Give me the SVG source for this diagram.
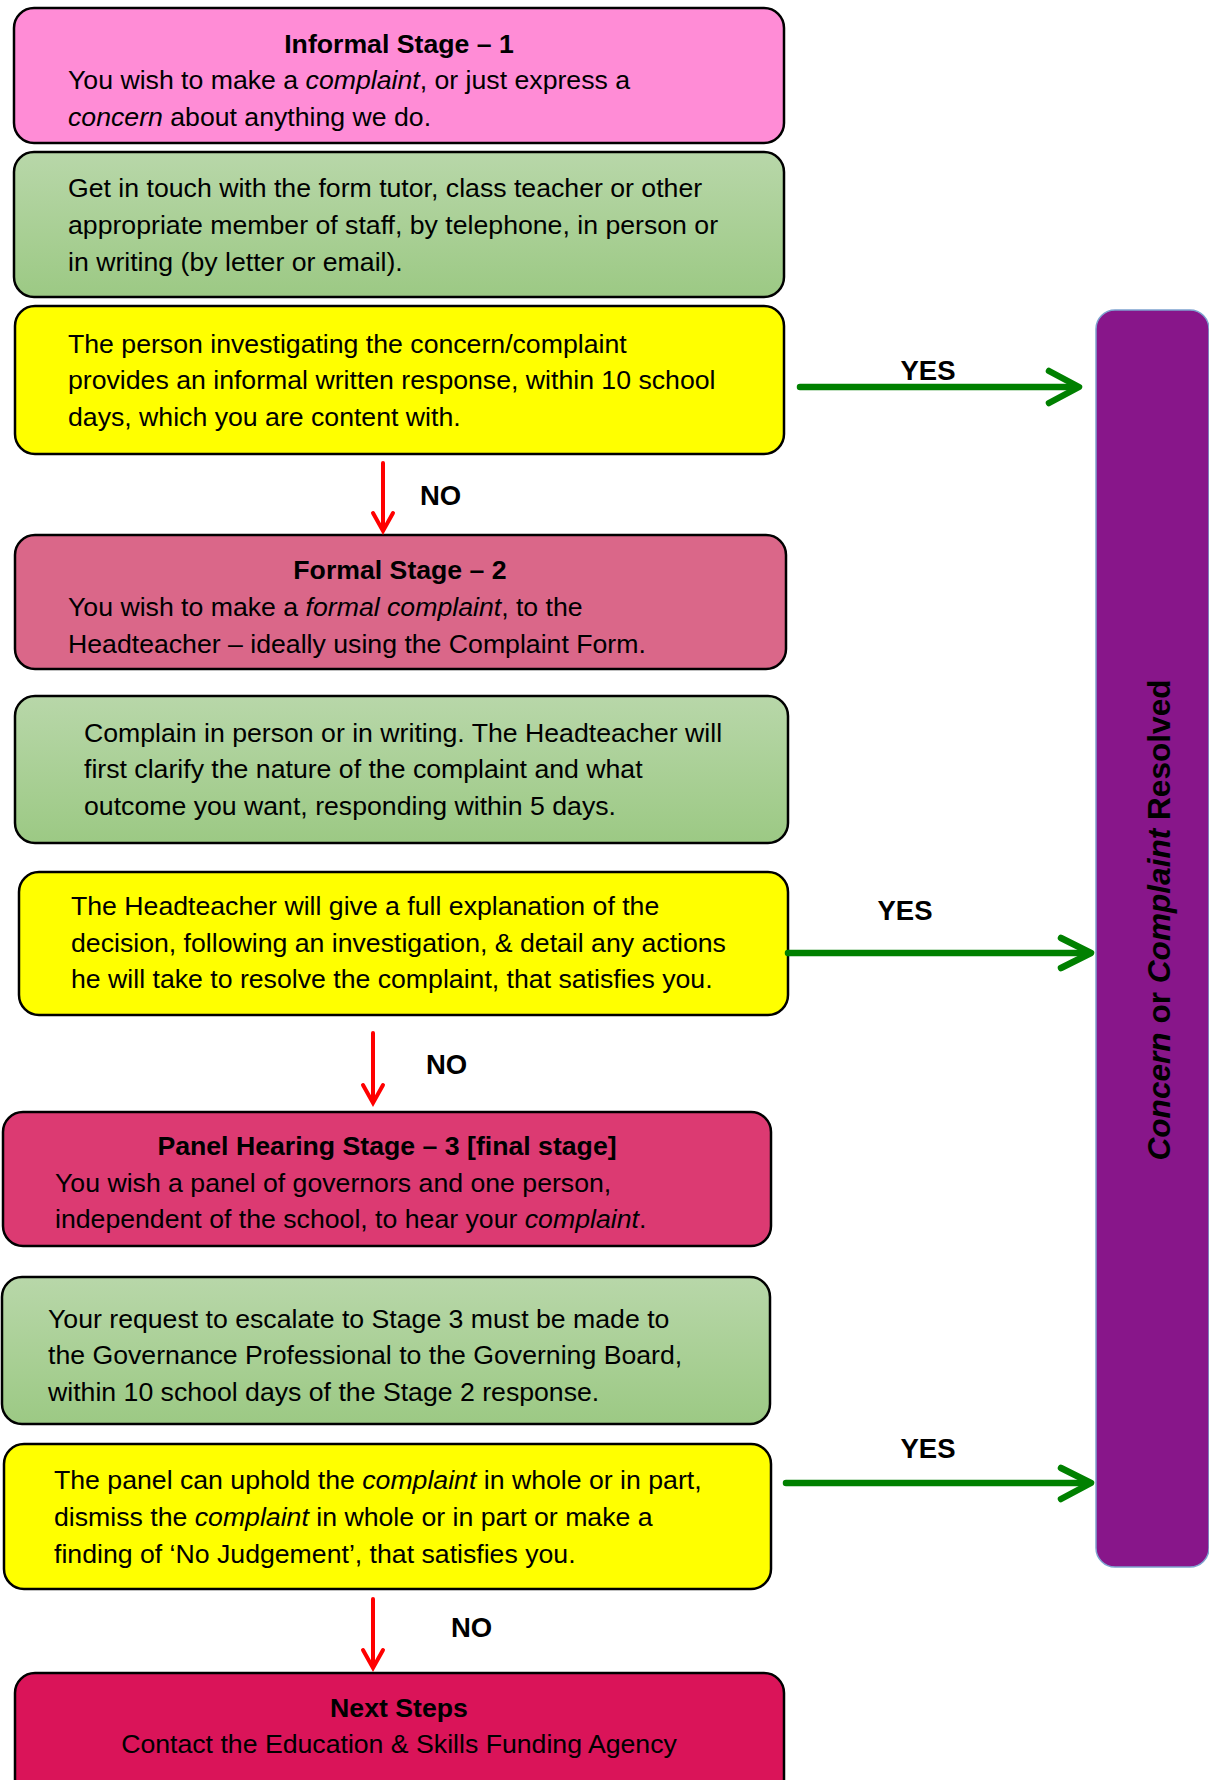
<svg xmlns="http://www.w3.org/2000/svg" width="1209" height="1780" viewBox="0 0 1209 1780">
<style>
.box{stroke:#000;stroke-width:2.5}
text{font-family:"Liberation Sans",Arial,sans-serif;font-size:26.67px;fill:#000}
.t{font-weight:bold;text-anchor:middle}
.c{text-anchor:middle}
.i{font-style:italic}
.lbl{font-weight:bold;font-size:27.5px}
.yes{fill:none;stroke:#008000;stroke-width:6.5;stroke-linecap:round;stroke-linejoin:round}
.no{fill:none;stroke:#ff0000;stroke-width:4;stroke-linecap:round;stroke-linejoin:miter}
</style>
<defs>
<linearGradient id="g" x1="0" y1="0" x2="0" y2="1">
<stop offset="0" stop-color="#b8d7a9"/>
<stop offset="1" stop-color="#9cc984"/>
</linearGradient>
</defs>
<g id="informal">
<rect class="box" x="14" y="8" width="770" height="135" rx="20" fill="#ff8cd6"/>
<text class="t" x="399" y="53">Informal Stage – 1</text>
<text x="68" y="89">You wish to make a <tspan class="i">complaint</tspan>, or just express a</text>
<text x="68" y="126"><tspan class="i">concern</tspan> about anything we do.</text>
</g>
<g id="contact">
<rect class="box" x="14" y="152" width="770" height="145" rx="20" fill="url(#g)"/>
<text x="68" y="197">Get in touch with the form tutor, class teacher or other</text>
<text x="68" y="234">appropriate member of staff, by telephone, in person or</text>
<text x="68" y="271">in writing (by letter or email).</text>
</g>
<g id="informal-response">
<rect class="box" x="15" y="306" width="769" height="148" rx="20" fill="#ffff00"/>
<text x="68" y="353">The person investigating the concern/complaint</text>
<text x="68" y="389">provides an informal written response, within 10 school</text>
<text x="68" y="426">days, which you are content with.</text>
</g>
<g id="formal">
<rect class="box" x="15" y="535" width="771" height="134" rx="20" fill="#da6789"/>
<text class="t" x="400" y="579">Formal Stage – 2</text>
<text x="68" y="616">You wish to make a <tspan class="i">formal complaint</tspan>, to the</text>
<text x="68" y="653">Headteacher – ideally using the Complaint Form.</text>
</g>
<g id="complain">
<rect class="box" x="15" y="696" width="773" height="147" rx="20" fill="url(#g)"/>
<text x="84" y="742">Complain in person or in writing. The Headteacher will</text>
<text x="84" y="778">first clarify the nature of the complaint and what</text>
<text x="84" y="815">outcome you want, responding within 5 days.</text>
</g>
<g id="headteacher-response">
<rect class="box" x="19" y="872" width="769" height="143" rx="20" fill="#ffff00"/>
<text x="71" y="915">The Headteacher will give a full explanation of the</text>
<text x="71" y="952">decision, following an investigation, &amp; detail any actions</text>
<text x="71" y="988">he will take to resolve the complaint, that satisfies you.</text>
</g>
<g id="panel">
<rect class="box" x="3" y="1112" width="768" height="134" rx="20" fill="#dc3a72"/>
<text class="t" x="387" y="1155">Panel Hearing Stage – 3 [final stage]</text>
<text x="55" y="1192">You wish a panel of governors and one person,</text>
<text x="55" y="1228">independent of the school, to hear your <tspan class="i">complaint</tspan>.</text>
</g>
<g id="escalate">
<rect class="box" x="2" y="1277" width="768" height="147" rx="20" fill="url(#g)"/>
<text x="48" y="1328">Your request to escalate to Stage 3 must be made to</text>
<text x="48" y="1364">the Governance Professional to the Governing Board,</text>
<text x="48" y="1401">within 10 school days of the Stage 2 response.</text>
</g>
<g id="panel-decision">
<rect class="box" x="4" y="1444" width="767" height="145" rx="20" fill="#ffff00"/>
<text x="54" y="1489">The panel can uphold the <tspan class="i">complaint</tspan> in whole or in part,</text>
<text x="54" y="1526">dismiss the <tspan class="i">complaint</tspan> in whole or in part or make a</text>
<text x="54" y="1563">finding of ‘No Judgement’, that satisfies you.</text>
</g>
<g id="next-steps">
<rect class="box" x="15" y="1673" width="769" height="130" rx="20" fill="#da1459"/>
<text class="t" x="399" y="1717">Next Steps</text>
<text class="c" x="399" y="1753">Contact the Education &amp; Skills Funding Agency</text>
</g>
<g id="resolved">
<rect x="1096" y="310" width="113" height="1257" rx="19" fill="#88168a" stroke="#7ea3d0" stroke-width="1.5"/>
<text transform="translate(1170,920) rotate(-90)" style="font-weight:bold;font-size:31.6px;text-anchor:middle"><tspan class="i">Concern</tspan> or <tspan class="i">Complaint</tspan> Resolved</text>
</g>
<g id="connectors">
<line class="yes" x1="800" y1="387" x2="1076" y2="387"/>
<polyline class="yes" points="1049,371 1079,387 1049,403"/>
<line class="yes" x1="788" y1="953" x2="1088" y2="953"/>
<polyline class="yes" points="1061,938 1091,953 1061,968"/>
<line class="yes" x1="786" y1="1483" x2="1088" y2="1483"/>
<polyline class="yes" points="1061,1468 1091,1483 1061,1499"/>
<line class="no" x1="383" y1="463" x2="383" y2="528"/>
<polyline class="no" points="373,513 383,531 393,513"/>
<line class="no" x1="373" y1="1033" x2="373" y2="1100"/>
<polyline class="no" points="363,1085 373,1103 383,1085"/>
<line class="no" x1="373" y1="1599" x2="373" y2="1665"/>
<polyline class="no" points="363,1650 373,1668 383,1650"/>
<text class="lbl c" x="928" y="380">YES</text>
<text class="lbl c" x="905" y="920">YES</text>
<text class="lbl c" x="928" y="1458">YES</text>
<text class="lbl" x="420" y="505">NO</text>
<text class="lbl" x="426" y="1074">NO</text>
<text class="lbl" x="451" y="1637">NO</text>
</g>
</svg>
